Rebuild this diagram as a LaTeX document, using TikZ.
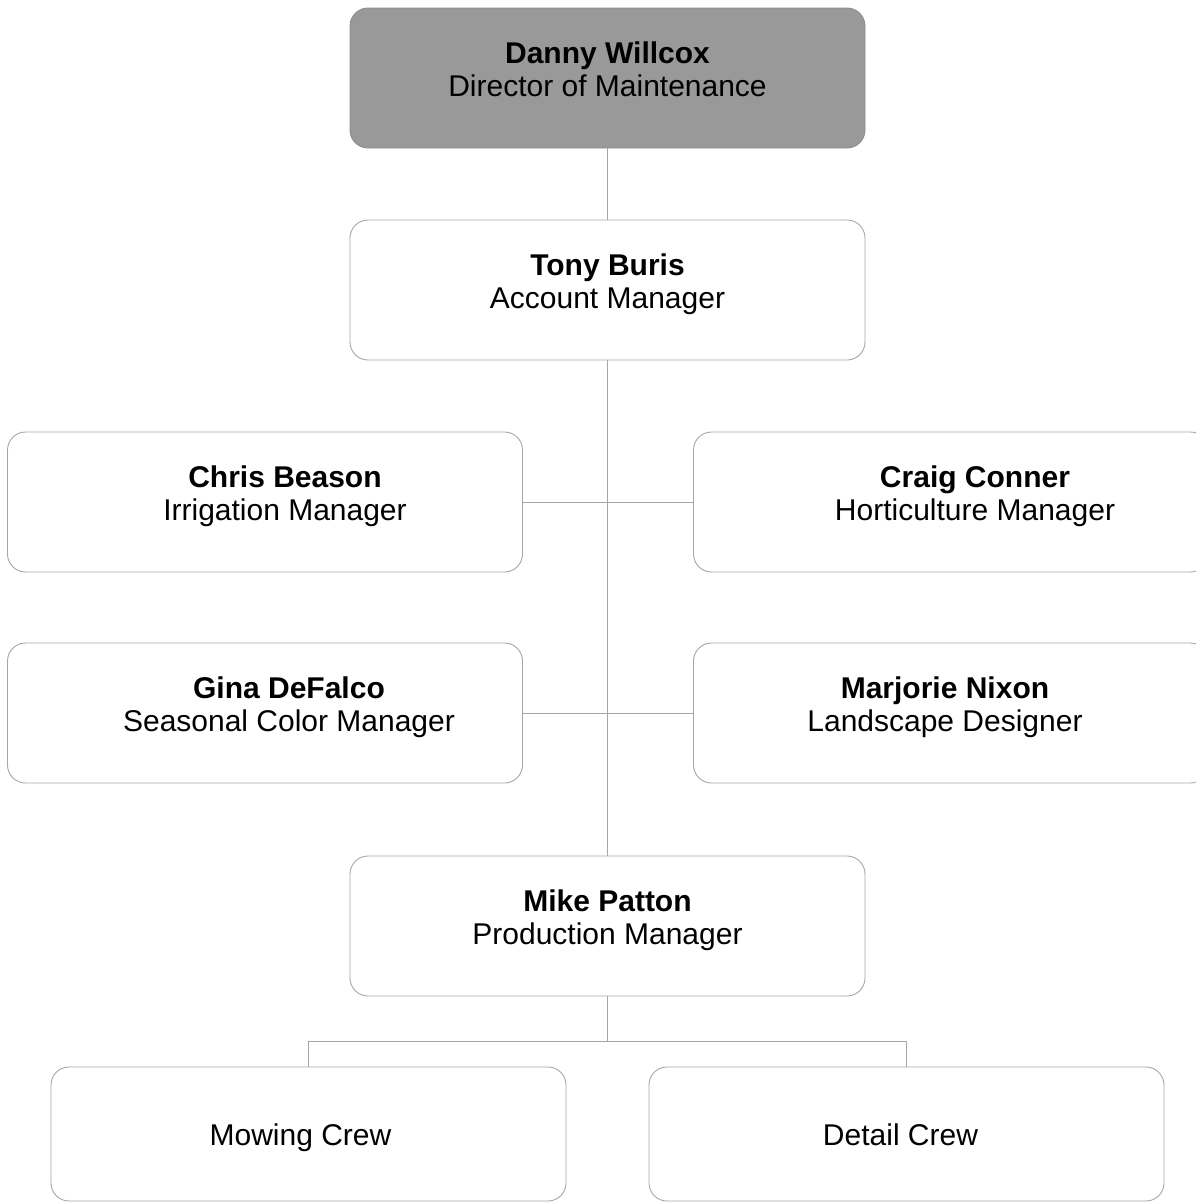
\documentclass[tikz,border=0pt]{standalone}
\usepackage{fontspec}
\setmainfont{Liberation Sans}
\usetikzlibrary{positioning}
\tikzset{
	post/.style={draw=black!35, line width=0.9pt, rounded corners=18pt, minimum width=515pt, minimum height=140pt, align=center, font=\fontsize{30}{33}\selectfont},
	head/.style={post, fill=black!40, draw=black!45},
	crew/.style={post, minimum height=134pt},
	wire/.style={draw=black!35, line width=1pt}
}
% box name, x, y, text shift (twice the offset), name, title
\newcommand{\person}[6]{\node[post,#1] at (#2,#3) {\hspace*{#4}\raisebox{5pt}[\height][\depth]{\begin{tabular}{@{}c@{}}\textbf{#5}\\#6\end{tabular}}};}

\begin{document}
\begin{tikzpicture}[x=1pt,y=-1pt]
	\useasboundingbox (0,0) rectangle (1195,1203);
	\person{head,name=danny}{607.5}{78}{0pt}{Danny Willcox}{Director of Maintenance}
	\person{name=tony}{607.5}{290}{0pt}{Tony Buris}{Account Manager}
	\person{name=chris}{265}{502}{40pt}{Chris Beason}{Irrigation Manager}
	\person{name=craig}{951}{502}{48pt}{Craig Conner}{Horticulture Manager}
	\person{name=gina}{265}{713}{48pt}{Gina DeFalco}{Seasonal Color Manager}
	\person{name=marjorie}{951}{713}{-12pt}{Marjorie Nixon}{Landscape Designer}
	\person{name=mike}{607.5}{926}{0pt}{Mike Patton}{Production Manager}
	\node[crew](mowing) at (308.5,1134) {\hspace*{-16pt}\raisebox{-5pt}[\height][\depth]{\strut Mowing Crew}};
	\node[crew](detail) at (906.5,1134) {\hspace*{-12pt}\raisebox{-5pt}[\height][\depth]{\strut Detail Crew}};

	\draw[wire] (danny) -- (tony);
	\draw[wire] (tony) -- (mike);
	\draw[wire] (chris) -- (craig);
	\draw[wire] (gina) -- (marjorie);

	\coordinate (fork) at (607.5,1041);
	\draw[wire] (mike) -- (fork);
	\draw[wire] (mowing.north) |- (fork) -| (detail.north);
\end{tikzpicture}
\end{document}
